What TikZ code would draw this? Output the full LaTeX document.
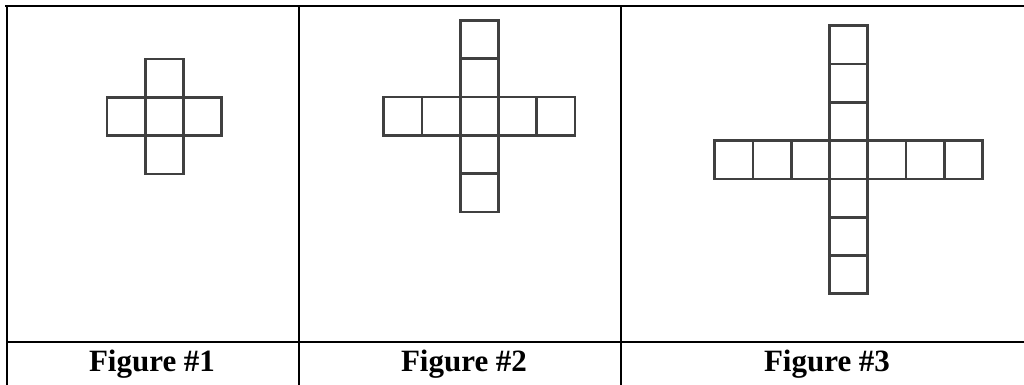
\documentclass[tikz,border=0pt]{standalone}
\usepackage{fontspec}
\setmainfont{Liberation Serif}
\begin{document}
\begin{tikzpicture}[x=1pt,y=-1pt,
  rule/.style={line width=2pt,black},
  thinrule/.style={line width=1.1pt,black},
  cellline/.style={line width=2.7pt,black!75,line join=miter},
  caption/.style={font=\fontsize{31}{36}\selectfont\bfseries,anchor=base,inner sep=0pt}]
\useasboundingbox (0,0) rectangle (1024,385);
\fill[white] (0,0) rectangle (1024,385);
\def\s{38.3}
\newcommand\plusshape[3]{%
  \foreach \i in {-#3,...,#3} {
    \draw[cellline] ({#1+\i*\s-\s/2},{#2-\s/2}) rectangle ++(\s,\s);
    \draw[cellline] ({#1-\s/2},{#2+\i*\s-\s/2}) rectangle ++(\s,\s);
  }}
% table rules
\coordinate (tl) at (5,6);
\coordinate (tr) at (1024,6);
\draw[thinrule] (tl) -- (tr);
\draw[rule] (5,6.5) -- (55,6.5);
\draw[rule] (252,6.5) -- (313,6.5);
\draw[rule] (621,6.5) -- (635,6.5);
\draw[rule] (7,6) -- (7,385);
\draw[rule] (299,6) -- (299,385);
\draw[rule] (621,6) -- (621,385);
\draw[rule] (7,342) -- (1024,342);
% crosses
\plusshape{164.3}{116.5}{1}
\plusshape{479.3}{116.2}{2}
\plusshape{848.6}{159.7}{3}
% captions
\node[caption] (c1) at (152,371.5) {Figure \#1};
\node[caption] (c2) at (464,371.5) {Figure \#2};
\node[caption] (c3) at (827,371.5) {Figure \#3};
\end{tikzpicture}
\end{document}
